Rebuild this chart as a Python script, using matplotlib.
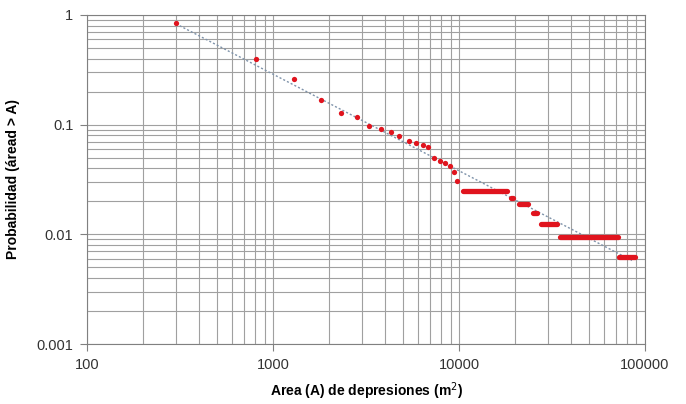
import numpy as np
import matplotlib.pyplot as plt

plt.rcParams['font.family'] = ['Liberation Sans', 'DejaVu Sans']

#%% Data
# single points (area m2, exceedance probability)
area_pts = [300, 809, 1296, 1803, 2318, 2820, 3283, 3808, 4296, 4777, 5344,
            5877, 6382, 6840, 7310, 7870, 8450, 8910, 9425, 9780]
prob_pts = [0.84, 0.395, 0.263, 0.169, 0.127, 0.117, 0.097, 0.091, 0.086,
            0.078, 0.0715, 0.0677, 0.0653, 0.063, 0.0494, 0.047, 0.0445,
            0.042, 0.0373, 0.0307]

# runs of tied probabilities (many points on one level)
run_start = [10450, 19000, 20930, 24900, 27600, 34920, 72900]
run_end = [18030, 19600, 23620, 26250, 33650, 71400, 88500]
run_prob = [0.025, 0.0216, 0.01875, 0.0156, 0.0125, 0.009375, 0.00625]

# power law trend line  P = a * A^b
fit_a = 125.6
fit_b = -0.88
fit_range = [300, 85000]

#%% Plot
fig = plt.figure(figsize=(6.86, 4.04), dpi=100)
ax = fig.add_axes([0.1273, 0.1485, 0.8129, 0.8145])

ax.set_xscale('log')
ax.set_yscale('log')
ax.set_xlim(100, 100000)
ax.set_ylim(0.001, 1)

ax.grid(True, which='both', color='#a0a0a0', linewidth=0.8)
ax.set_axisbelow(True)

xf = np.logspace(np.log10(fit_range[0]), np.log10(fit_range[1]), 50)
ax.plot(xf, fit_a * xf ** fit_b, color='#7f93aa', linewidth=1.0,
        linestyle=(0, (1.5, 1.5)), zorder=2)

red = '#e0141e'
ax.plot(area_pts, prob_pts, 'o', color=red, markersize=3.8,
        markeredgewidth=0, zorder=3)
for x0, x1, p in zip(run_start, run_end, run_prob):
    ax.plot([x0, x1], [p, p], color=red, linewidth=3.8,
            solid_capstyle='round', zorder=3)

ax.set_xticks([100, 1000, 10000, 100000])
ax.set_xticklabels(['100', '1000', '10000', '100000'])
ax.set_yticks([0.001, 0.01, 0.1, 1])
ax.set_yticklabels(['0.001', '0.01', '0.1', '1'])
ax.tick_params(which='minor', length=0)
ax.tick_params(which='major', length=5, width=0.8, color='#808080',
               labelsize=10.5, labelcolor='#333333', pad=5)

for s in ax.spines.values():
    s.set_color('#808080')
    s.set_linewidth(0.8)

ax.set_xlabel('Area (A) de depresiones (m$^2$)', fontsize=10,
              fontweight='bold', labelpad=6)
ax.set_ylabel('Probabilidad (áread > A)', fontsize=10, fontweight='bold',
              labelpad=12)

fig.savefig('out.png', dpi=100)
